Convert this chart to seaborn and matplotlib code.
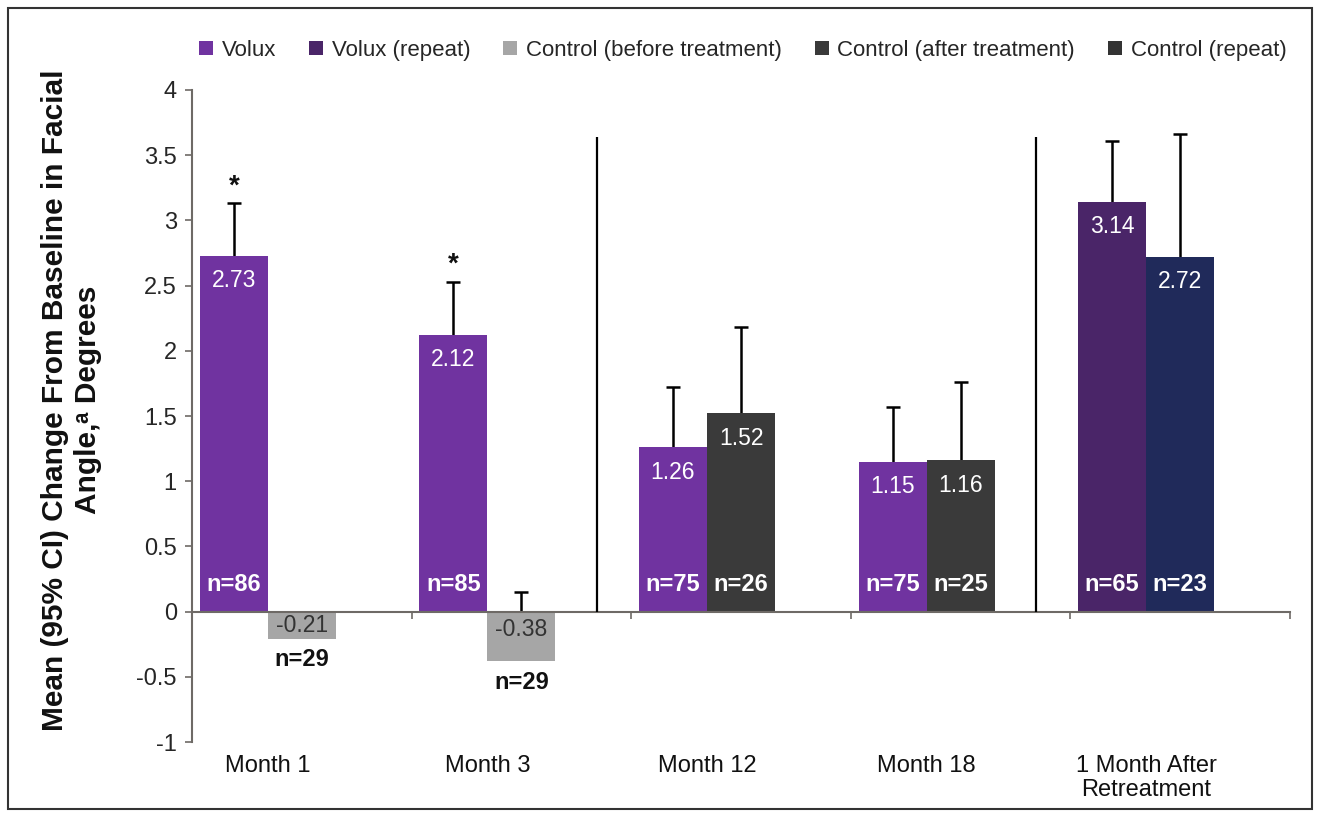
import numpy as np
import pandas as pd
import matplotlib
matplotlib.use("Agg")
import matplotlib.pyplot as plt
import seaborn as sns
from matplotlib.lines import Line2D
from matplotlib.patches import Rectangle

# ---------------- data ----------------
categories = ["Month 1", "Month 3", "Month 12", "Month 18", "1 Month After\nRetreatment"]

left_series = ["Volux", "Volux", "Volux", "Volux", "Volux (repeat)"]
left_values = [2.73, 2.12, 1.26, 1.15, 3.14]
left_upper = [3.13, 2.53, 1.72, 1.57, 3.61]
left_n = [86, 85, 75, 75, 65]

right_series = ["Control (before treatment)", "Control (before treatment)",
                "Control (after treatment)", "Control (after treatment)",
                "Control (repeat)"]
right_values = [-0.21, -0.38, 1.52, 1.16, 2.72]
right_upper = [np.nan, 0.15, 2.18, 1.76, 3.66]
right_n = [29, 29, 26, 25, 23]

significant = [True, True, False, False, False]

series_order = ["Volux", "Volux (repeat)", "Control (before treatment)",
                "Control (after treatment)", "Control (repeat)"]
series_colors = {"Volux": "#7033A0", "Volux (repeat)": "#4A2568",
                 "Control (before treatment)": "#A6A6A6",
                 "Control (after treatment)": "#3A3A3A",
                 "Control (repeat)": "#202A5A"}
legend_colors = {"Volux": "#7033A0", "Volux (repeat)": "#4A2568",
                 "Control (before treatment)": "#A6A6A6",
                 "Control (after treatment)": "#3A3A3A",
                 "Control (repeat)": "#333333"}

yticks = [-1, -0.5, 0, 0.5, 1, 1.5, 2, 2.5, 3, 3.5, 4]
ytick_labels = ["-1", "-0.5", "0", "0.5", "1", "1.5", "2", "2.5", "3", "3.5", "4"]
separator_after = [1, 3]
ylabel = "Mean (95% CI) Change From Baseline in Facial\nAngle,\u1d43 Degrees"

# ---------------- style ----------------
sns.set_style("white")
plt.rcParams["font.family"] = ["Liberation Sans", "DejaVu Sans"]

fig = plt.figure(figsize=(13.2, 8.21), dpi=100)
ax = fig.add_axes([0.1455, 0.0962, 0.8318, 0.7942])

BW = 0.31
idx = np.arange(len(categories))
left_pos = idx - BW / 2
right_pos = idx + BW / 2

df = pd.DataFrame({
    "pos": np.concatenate([left_pos, right_pos]),
    "value": left_values + right_values,
    "series": left_series + right_series,
})

sns.barplot(data=df, x="pos", y="value", hue="series", hue_order=series_order,
            palette=series_colors, native_scale=True, dodge=False, width=1.0,
            saturation=1, linewidth=0, errorbar=None, legend=False,
            orient="x", ax=ax, zorder=2)

# error bars (upper only, starting from the top of the bar or from zero)
all_pos = np.concatenate([left_pos, right_pos])
all_val = np.array(left_values + right_values)
all_up = np.array(left_upper + right_upper)
ok = np.isfinite(all_up)
base = np.maximum(all_val[ok], 0)
eb = ax.errorbar(all_pos[ok], base,
                 yerr=[np.zeros(ok.sum()), all_up[ok] - base],
                 fmt="none", ecolor="black", elinewidth=1.8, capsize=5,
                 capthick=1.8, zorder=1)
eb[1][0].set_visible(False)

# axes formatting
ax.set_xlim(-0.345, len(categories) - 0.345)
ax.set_ylim(-1, 4)
ax.set_yticks(yticks)
ax.set_yticklabels(ytick_labels)
boundaries = np.arange(len(categories) + 1) - 0.345
ax.set_xticks(boundaries)
ax.set_xticklabels([""] * len(boundaries))
ax.set_xlabel("")
ax.set_ylabel("")
for s in ["top", "right"]:
    ax.spines[s].set_visible(False)
ax.spines["bottom"].set_position(("data", 0))
for s in ["bottom", "left"]:
    ax.spines[s].set_color("#6E6A66")
    ax.spines[s].set_linewidth(1.5)
ax.tick_params(axis="y", direction="out", length=5, width=1.2, color="#6E6A66",
               labelsize=17, pad=6, left=True)
ax.tick_params(axis="x", direction="out", length=5, width=1.2, color="#6E6A66",
               bottom=True)

# separators
for k in separator_after:
    ax.vlines(idx[k] + 0.5, 0, 3.64, color="black", lw=1.6, zorder=3)

# category labels
for i, cat in zip(idx, categories):
    ax.text(i, -1.1, cat, ha="center", va="top", fontsize=17, color="#111111",
            linespacing=1.1)

# value labels and n labels
def annotate(x, v, n):
    if v > 0:
        ax.text(x, v - 0.19, f"{v:.2f}", ha="center", va="center",
                fontsize=16.5, color="white", zorder=4)
        ax.text(x, 0.21, f"n={n}", ha="center", va="center", fontsize=17,
                fontweight="bold", color="white", zorder=4)
    else:
        ax.text(x, max(v / 2, -0.14), f"{v:.2f}", ha="center", va="center",
                fontsize=16.5, color="#333333", zorder=4)
        ax.text(x, v - 0.16, f"n={n}", ha="center", va="center", fontsize=17,
                fontweight="bold", color="#111111", zorder=4)

for x, v, n in zip(left_pos, left_values, left_n):
    annotate(x, v, n)
for x, v, n in zip(right_pos, right_values, right_n):
    annotate(x, v, n)

for x, up, sig in zip(left_pos, left_upper, significant):
    if sig:
        ax.text(x, up + 0.13, "*", ha="center", va="center", fontsize=20,
                fontweight="bold", color="#111111")

# legend
handles = [Line2D([], [], marker="s", linestyle="", markersize=10,
                  markerfacecolor=legend_colors[s], markeredgewidth=0)
           for s in series_order]
fig.legend(handles, series_order, loc="center", bbox_to_anchor=(0.562, 0.939),
           ncol=5, frameon=False, fontsize=16, handletextpad=0.3,
           columnspacing=1.4, handlelength=0.8)

# y label
fig.text(0.054, 0.513, ylabel, rotation=90, ha="center", va="center",
         fontsize=21.5, fontweight="bold", multialignment="center",
         linespacing=1.25, color="#111111")

# figure border
fig.add_artist(Rectangle((0.006, 0.0146), 0.988, 0.9755,
                         transform=fig.transFigure, fill=False,
                         edgecolor="#333333", lw=1.5))

fig.savefig("out.png", dpi=100, facecolor="white")
